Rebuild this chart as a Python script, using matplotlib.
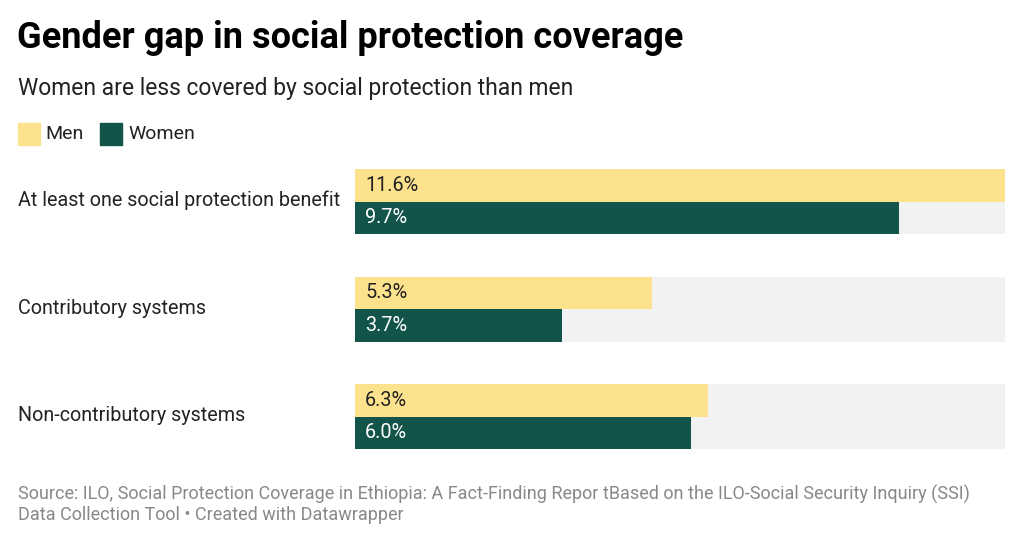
import matplotlib
matplotlib.use("Agg")
import matplotlib.pyplot as plt

categories = ["At least one social protection benefit", "Contributory systems", "Non-contributory systems"]
men = [11.6, 5.3, 6.3]
women = [9.7, 3.7, 6.0]
series_names = ["Men", "Women"]

plt.rcParams['font.family'] = ['Roboto', 'DejaVu Sans']
W, H = 1024, 542
fig = plt.figure(figsize=(W / 100, H / 100), dpi=100)
fig.patch.set_facecolor("white")

YEL = "#fde28e"
GRN = "#13544a"
BG = "#f2f2f2"

def fx(px): return px / W
def fy(py): return 1 - py / H

fig.text(fx(17), fy(38), "Gender gap in social protection coverage", fontsize=26,
         fontweight="bold", color="#000000", va="center", ha="left")
fig.text(fx(18), fy(88), "Women are less covered by social protection than men", fontsize=16.5,
         color="#222222", va="center", ha="left")

# legend
for x0, tx, col, name in [(18, 45, YEL, series_names[0]), (100, 128, GRN, series_names[1])]:
    fig.patches.append(plt.Rectangle((fx(x0), fy(145)), fx(22), 22 / H, color=col,
                                     transform=fig.transFigure, figure=fig))
    fig.text(fx(tx), fy(134), name, fontsize=14, color="#222222", va="center", ha="left")

# axes
left, right, top, bottom = 355, 1005, 169, 449
ax = fig.add_axes([fx(left), fy(bottom), (right - left) / W, (bottom - top) / H])
ax.set_xlim(0, max(men))
ax.set_ylim(bottom - top, 0)
ax.axis("off")

bh = 32.5
gap = 107.5
xmax = max(men)
for i, cat in enumerate(categories):
    y0 = i * gap
    ax.barh(y0 + bh, xmax, height=bh * 2, left=0, color=BG, align="center")
    ax.barh(y0 + bh / 2, men[i], height=bh, color=YEL, align="center")
    ax.barh(y0 + bh * 1.5, women[i], height=bh, color=GRN, align="center")
    ax.text(xmax * 10 / 650, y0 + bh / 2, f"{men[i]:.1f}%", fontsize=14.3, color="#222222",
            va="center", ha="left")
    ax.text(xmax * 10 / 650, y0 + bh * 1.5, f"{women[i]:.1f}%", fontsize=14.3, color="white",
            va="center", ha="left")
    fig.text(fx(18), fy(top + y0 + bh - 1), cat, fontsize=14.2, color="#222222", va="center", ha="left")

fig.text(fx(18), fy(494), "Source: ILO, Social Protection Coverage in Ethiopia: A Fact-Finding Repor tBased on the ILO-Social Security Inquiry (SSI)",
         fontsize=13, color="#888888", va="center", ha="left")
fig.text(fx(18), fy(515), "Data Collection Tool • Created with Datawrapper",
         fontsize=13, color="#888888", va="center", ha="left")

fig.savefig("out.png", dpi=100, facecolor="white")
